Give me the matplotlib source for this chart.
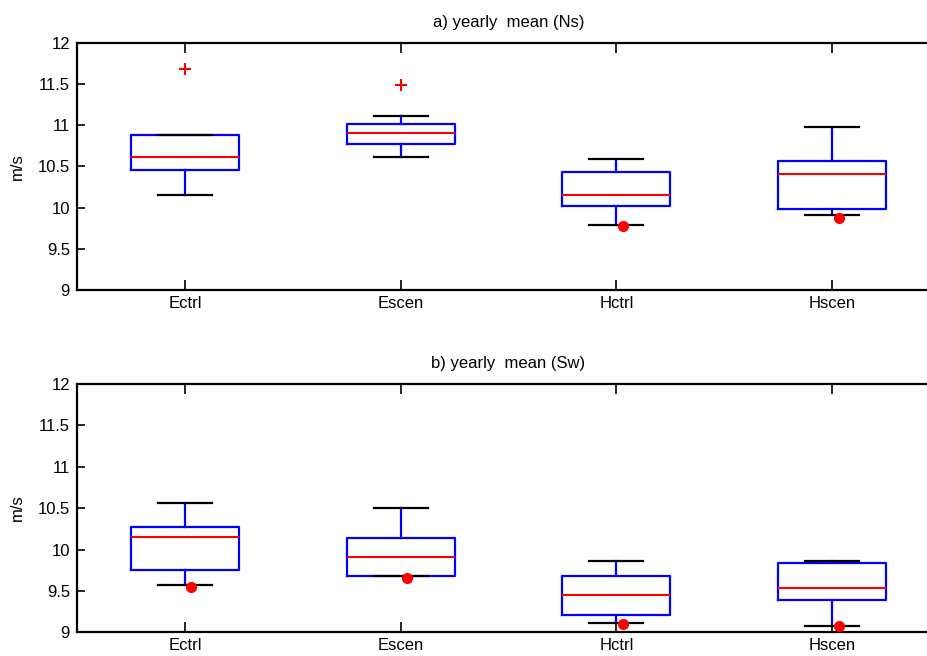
import matplotlib
matplotlib.use("Agg")
import matplotlib.pyplot as plt
from matplotlib.ticker import FuncFormatter

plt.rcParams["font.family"] = ["Liberation Sans", "DejaVu Sans"]
plt.rcParams["font.size"] = 12

runs = ["Ectrl", "Escen", "Hctrl", "Hscen"]

# a) yearly mean, Ns
ns_q1 = [10.46, 10.775, 10.023, 9.979]
ns_med = [10.614, 10.909, 10.157, 10.408]
ns_q3 = [10.885, 11.015, 10.432, 10.569]
ns_lo = [10.157, 10.614, 9.792, 9.906]
ns_hi = [10.885, 11.115, 10.593, 10.978]
ns_out = [[11.686], [11.484], [], []]
ns_dot = [None, None, 9.773, 9.877]

# b) yearly mean, Sw
sw_q1 = [9.752, 9.684, 9.205, 9.39]
sw_med = [10.155, 9.909, 9.454, 9.53]
sw_q3 = [10.275, 10.135, 9.68, 9.84]
sw_lo = [9.568, 9.684, 9.116, 9.072]
sw_hi = [10.565, 10.498, 9.861, 9.861]
sw_out = [[], [], [], []]
sw_dot = [9.551, 9.656, 9.097, 9.076]

yticks = [9, 9.5, 10, 10.5, 11, 11.5, 12]


def draw_panel(ax, title, q1, med, q3, lo, hi, out, dot):
    stats = []
    for i in range(len(runs)):
        stats.append(dict(label=runs[i], q1=q1[i], med=med[i], q3=q3[i],
                          whislo=lo[i], whishi=hi[i], fliers=out[i]))
    pos = list(range(1, len(runs) + 1))
    ax.bxp(stats, positions=pos, widths=0.5, capwidths=0.25,
           showfliers=True,
           boxprops=dict(color="blue", linewidth=1.6),
           whiskerprops=dict(color="blue", linewidth=1.6),
           capprops=dict(color="black", linewidth=1.6),
           medianprops=dict(color="red", linewidth=1.5),
           flierprops=dict(marker="+", markeredgecolor="red",
                           markersize=9, markeredgewidth=1.5))
    for p, d in zip(pos, dot):
        if d is not None:
            ax.plot(p + 0.03, d, "o", color="red", markersize=7, zorder=5)

    ax.set_xlim(0.5, len(runs) + 0.5)
    ax.set_ylim(9, 12)
    ax.set_yticks(yticks)
    ax.yaxis.set_major_formatter(FuncFormatter(lambda v, _: f"{v:g}"))
    ax.set_xticks(pos)
    ax.set_xticklabels(runs)
    ax.tick_params(direction="in", length=6, width=1.2, top=True,
                   right=False, pad=5)
    ax.tick_params(axis="x", length=7, pad=4)
    ax.spines["right"].set_visible(False)
    for s in ax.spines.values():
        s.set_linewidth(1.6)
    ax.set_ylabel("m/s", labelpad=9)
    ax.set_title(title, pad=11, fontsize=12)


fig = plt.figure(figsize=(9.28, 6.56), dpi=100)
ax1 = fig.add_axes([0.083, 0.558, 0.930, 0.377])
ax2 = fig.add_axes([0.083, 0.036, 0.930, 0.379])

draw_panel(ax1, "a) yearly  mean (Ns)", ns_q1, ns_med, ns_q3,
           ns_lo, ns_hi, ns_out, ns_dot)
draw_panel(ax2, "b) yearly  mean (Sw)", sw_q1, sw_med, sw_q3,
           sw_lo, sw_hi, sw_out, sw_dot)

fig.savefig("out.png", dpi=100)
